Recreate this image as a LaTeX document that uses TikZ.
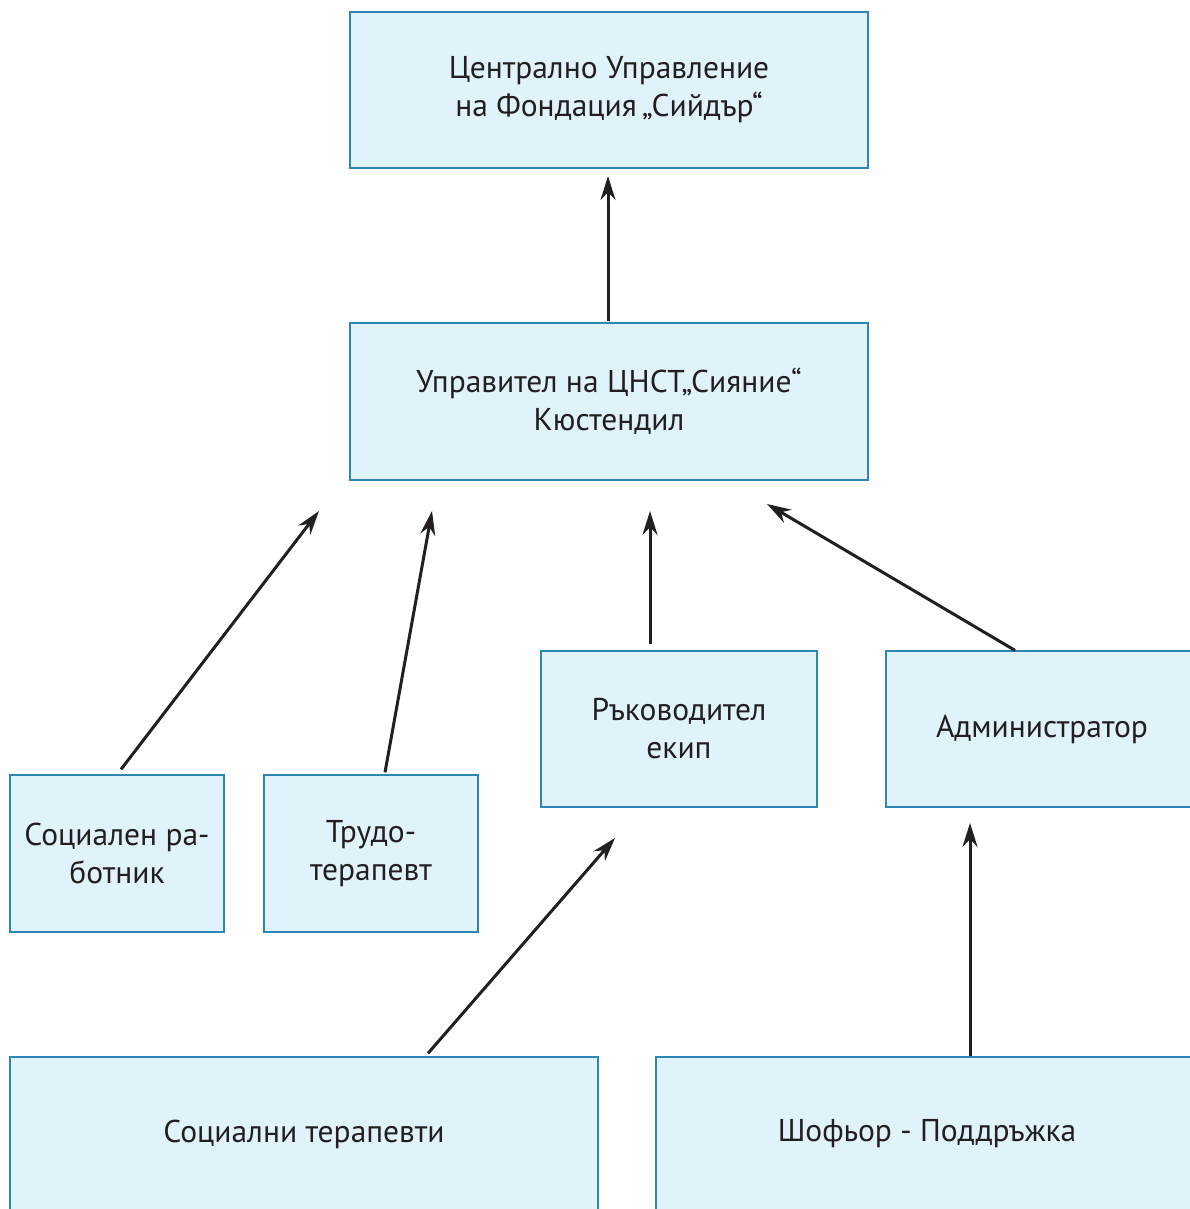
\documentclass[tikz,border=0pt]{standalone}
\usepackage{fontspec}
\setmainfont{PT Sans}
\usepackage{xcolor}
\usetikzlibrary{arrows.meta,calc}

\definecolor{boxfill}{HTML}{E0F3FB}
\definecolor{boxline}{HTML}{2E86B5}
\definecolor{inkblack}{HTML}{231F20}

\begin{document}
\begin{tikzpicture}[
    x=1pt, y=-1pt,
    font=\fontsize{31.5}{38}\selectfont,
    unit/.style={draw=boxline, line width=1.3pt, fill=boxfill, align=center, text=inkblack, inner sep=0pt},
    arr/.style={-{Stealth[length=24pt, width=15pt]}, line width=3pt, draw=inkblack}
]
\useasboundingbox (0,0) rectangle (1190,1209);
\clip (0,0) rectangle (1190,1209);

% Management
\node[unit, minimum width=518pt, minimum height=156pt] (central) at (609,90) {Централно Управление\\на Фондация\,„Сийдър“};
\node[unit, minimum width=518pt, minimum height=157pt] (manager) at (609,401.5) {Управител на ЦНСТ„Сияние“\\Кюстендил};

% Staff
\node[unit, minimum width=276pt, minimum height=156pt] (teamlead) at (679,729) {Ръководител\\екип};
\node[unit, minimum width=312pt, minimum height=156pt] (admin) at (1042,729) {Администратор};
\node[unit, minimum width=214pt, minimum height=157pt] (socwork) at (117,853.5) {Социален ра-\\ботник};
\node[unit, minimum width=214pt, minimum height=157pt] (ergo) at (371,853.5) {Трудо-\\терапевт};
\node[unit, minimum width=588pt, minimum height=154pt] (socther) at (304,1134) {Социални терапевти};
\node[unit, minimum width=542pt, minimum height=154pt] (driver) at (927,1134) {Шофьор - Поддръжка};

% arrow tips
\coordinate (tipcentral) at (608,176);
\coordinate (tipsoc) at (319,511);
\coordinate (tipergo) at (432,511);
\coordinate (tiplead) at (650,511);
\coordinate (tipadmin) at (767,504);
\coordinate (tipther) at (615,838);
\coordinate (tipdriver) at (970,823);

\draw[arr] ([xshift=-1pt,yshift=1pt]manager.north) -- (tipcentral);
\draw[arr] ([xshift=4pt,yshift=5pt]socwork.north) -- (tipsoc);
\draw[arr] ([xshift=14pt,yshift=2pt]ergo.north) -- (tipergo);
\draw[arr] ([xshift=-29pt,yshift=6pt]teamlead.north) -- (tiplead);
\draw[arr] ([xshift=-27pt]admin.north) -- (tipadmin);
\draw[arr] ([xshift=124pt,yshift=3pt]socther.north) -- (tipther);
\draw[arr] ([xshift=43pt]driver.north) -- (tipdriver);
\end{tikzpicture}
\end{document}
